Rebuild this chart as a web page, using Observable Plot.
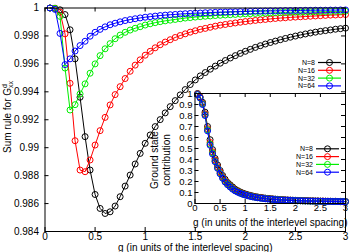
<!DOCTYPE html>
<html><head><meta charset="utf-8">
<script src="https://cdn.jsdelivr.net/npm/d3@7"></script>
<script src="https://cdn.jsdelivr.net/npm/@observablehq/plot@0.6"></script>
<style>
html,body{margin:0;padding:0;background:#fff;}
#wrap{position:relative;width:360px;height:252px;overflow:hidden;font-family:"Liberation Sans",Arial,sans-serif;}
#wrap svg{position:absolute;overflow:visible;}
</style></head><body><div id="wrap"></div>
<script>
const names = ["N=8", "N=16", "N=32", "N=64"];
const colors = ["#000000", "#ff0000", "#00ee00", "#0000ff"];

const gvals = [0.05,0.10,0.15,0.20,0.25,0.30,0.35,0.40,0.45,0.50,0.55,0.60,0.65,0.70,0.75,0.80,0.85,0.90,0.95,1.00,
  1.05,1.10,1.15,1.20,1.25,1.30,1.35,1.40,1.45,1.50,1.55,1.60,1.65,1.70,1.75,1.80,1.85,1.90,1.95,2.00,
  2.05,2.10,2.15,2.20,2.25,2.30,2.35,2.40,2.45,2.50,2.55,2.60,2.65,2.70,2.75,2.80,2.85,2.90,2.95,3.00];

// Main panel: sum rule
const sum8 = [1.00000,0.99998,0.99987,0.99953,0.99844,0.99636,0.99361,0.99079,0.98840,0.98665,
  0.98565,0.98529,0.98541,0.98582,0.98649,0.98725,0.98804,0.98883,0.98959,0.99031,
  0.99091,0.99151,0.99201,0.99249,0.99294,0.99337,0.99378,0.99416,0.99452,0.99485,
  0.99514,0.99538,0.99562,0.99584,0.99605,0.99624,0.99642,0.99659,0.99675,0.99690,
  0.99704,0.99718,0.99730,0.99742,0.99753,0.99763,0.99773,0.99782,0.99791,0.99799,
  0.99807,0.99814,0.99821,0.99827,0.99833,0.99838,0.99843,0.99848,0.99852,0.99856];
const sum16 = [1.00000,0.99998,0.99970,0.99815,0.99461,0.99050,0.98840,0.98828,0.98912,0.99019,
  0.99122,0.99217,0.99306,0.99380,0.99437,0.99495,0.99547,0.99591,0.99629,0.99662,
  0.99690,0.99715,0.99737,0.99756,0.99773,0.99789,0.99803,0.99815,0.99827,0.99837,
  0.99847,0.99854,0.99862,0.99870,0.99877,0.99882,0.99888,0.99893,0.99898,0.99903,
  0.99907,0.99911,0.99915,0.99918,0.99922,0.99925,0.99928,0.99930,0.99933,0.99935,
  0.99937,0.99939,0.99941,0.99943,0.99945,0.99947,0.99949,0.99950,0.99952,0.99953];
const sum32 = [1.00000,0.99997,0.99940,0.99570,0.99270,0.99308,0.99385,0.99457,0.99533,0.99600,
  0.99659,0.99708,0.99745,0.99780,0.99806,0.99826,0.99842,0.99855,0.99866,0.99878,
  0.99887,0.99895,0.99902,0.99908,0.99913,0.99918,0.99923,0.99928,0.99931,0.99935,
  0.99938,0.99941,0.99943,0.99946,0.99948,0.99950,0.99952,0.99954,0.99956,0.99958,
  0.99959,0.99961,0.99962,0.99963,0.99964,0.99966,0.99967,0.99968,0.99969,0.99970,
  0.99970,0.99971,0.99972,0.99973,0.99974,0.99974,0.99975,0.99976,0.99976,0.99977];
const sum64 = [1.00000,0.99990,0.99818,0.99595,0.99636,0.99692,0.99731,0.99762,0.99798,0.99826,
  0.99847,0.99865,0.99880,0.99891,0.99901,0.99910,0.99917,0.99923,0.99929,0.99934,
  0.99938,0.99942,0.99946,0.99949,0.99952,0.99954,0.99957,0.99959,0.99961,0.99963,
  0.99964,0.99966,0.99967,0.99969,0.99970,0.99971,0.99972,0.99973,0.99974,0.99975,
  0.99976,0.99977,0.99977,0.99978,0.99979,0.99979,0.99980,0.99981,0.99981,0.99982,
  0.99982,0.99983,0.99983,0.99984,0.99984,0.99984,0.99985,0.99985,0.99986,0.99986];

// Inset: ground state contribution
const gs8 = [1.000,0.970,0.920,0.830,0.700,0.580,0.490,0.410,0.350,0.300,
  0.255,0.220,0.190,0.170,0.150,0.130,0.117,0.105,0.095,0.087,
  0.080,0.074,0.068,0.063,0.059,0.055,0.052,0.049,0.046,0.044,
  0.042,0.040,0.038,0.036,0.035,0.033,0.032,0.031,0.030,0.029,
  0.028,0.027,0.026,0.026,0.025,0.024,0.024,0.023,0.023,0.022,
  0.022,0.021,0.021,0.020,0.020,0.020,0.019,0.019,0.019,0.018];
const gs16 = [0.995,0.965,0.910,0.815,0.680,0.555,0.470,0.395,0.335,0.285,
  0.243,0.208,0.180,0.160,0.140,0.122,0.110,0.099,0.089,0.082,
  0.075,0.069,0.064,0.059,0.055,0.052,0.049,0.046,0.043,0.041,
  0.039,0.037,0.036,0.034,0.033,0.031,0.030,0.029,0.028,0.027,
  0.026,0.026,0.025,0.024,0.024,0.023,0.023,0.022,0.022,0.021,
  0.021,0.020,0.020,0.019,0.019,0.019,0.018,0.018,0.018,0.017];
const gs32 = [0.990,0.960,0.905,0.805,0.670,0.540,0.460,0.385,0.325,0.275,
  0.235,0.200,0.175,0.155,0.135,0.118,0.106,0.096,0.086,0.079,
  0.073,0.067,0.062,0.057,0.053,0.050,0.047,0.044,0.042,0.040,
  0.038,0.036,0.035,0.033,0.032,0.030,0.029,0.028,0.027,0.026,
  0.025,0.025,0.024,0.023,0.023,0.022,0.022,0.021,0.021,0.020,
  0.020,0.019,0.019,0.019,0.018,0.018,0.018,0.017,0.017,0.017];
const gs64 = [0.990,0.960,0.900,0.800,0.660,0.530,0.450,0.380,0.320,0.270,
  0.230,0.195,0.170,0.150,0.130,0.115,0.103,0.093,0.084,0.077,
  0.071,0.065,0.060,0.056,0.052,0.049,0.046,0.043,0.041,0.039,
  0.037,0.035,0.034,0.032,0.031,0.030,0.029,0.028,0.027,0.026,
  0.025,0.025,0.024,0.023,0.023,0.022,0.022,0.021,0.021,0.020,
  0.020,0.019,0.019,0.019,0.018,0.018,0.018,0.017,0.017,0.017];

const xTicks = [0, 0.5, 1, 1.5, 2, 2.5, 3];
const xTickLabels = ["0", "0.5", "1", "1.5", "2", "2.5", "3"];
const yTicks = [0.984, 0.986, 0.988, 0.99, 0.992, 0.994, 0.996, 0.998, 1];
const yTickLabels = ["0.984", "0.986", "0.988", "0.99", "0.992", "0.994", "0.996", "0.998", "1"];
const insetYTicks = [0, 0.1, 0.2, 0.3, 0.4, 0.5, 0.6, 0.7, 0.8, 0.9, 1];
const insetYTickLabels = ["0", "0.1", "0.2", "0.3", "0.4", "0.5", "0.6", "0.7", "0.8", "0.9", "1"];
const xTitle = "g (in units of the interlevel spacing)";
const insetTitle = ["Ground state", "contribution"];

const mainSeries = [sum8, sum16, sum32, sum64];
const insetSeries = [gs8, gs16, gs32, gs64];
const mkRows = (arrs) => arrs.map((arr, s) => arr.map((v, i) => ({g: gvals[i], v, N: names[s]})));
const mainRows = mkRows(mainSeries);
const insetRows = mkRows(insetSeries);

const FONT = '"Liberation Sans", Arial, sans-serif';

function tickRules(xt, yt, xd, yd, len) {
  return [
    Plot.ruleX(xt, {x: d => d, y1: () => yd[0], y2: () => yd[0], insetTop: -len, stroke: "black"}),
    Plot.ruleX(xt, {x: d => d, y1: () => yd[1], y2: () => yd[1], insetBottom: -len, stroke: "black"}),
    Plot.ruleY(yt, {y: d => d, x1: () => xd[0], x2: () => xd[0], insetRight: -len, stroke: "black"}),
    Plot.ruleY(yt, {y: d => d, x1: () => xd[1], x2: () => xd[1], insetLeft: -len, stroke: "black"})
  ];
}

function seriesMarks(rowsBySeries) {
  const m = [];
  rowsBySeries.forEach((rows, s) => {
    m.push(Plot.line(rows, {x: "g", y: "v", stroke: colors[s], strokeWidth: 1}));
    m.push(Plot.dot(rows, {x: "g", y: "v", stroke: colors[s], fill: "none", r: 3, strokeWidth: 1}));
  });
  return m;
}

const main = Plot.plot({
  width: 360, height: 252,
  marginLeft: 44.5, marginRight: 15, marginTop: 7.5, marginBottom: 21,
  style: {fontFamily: FONT, fontSize: "10px", background: "transparent", overflow: "visible"},
  x: {domain: [0, 3]},
  y: {domain: [0.984, 1]},
  marks: [
    ...seriesMarks(mainRows),
    Plot.axisX(xTicks, {tickSize: 0, tickPadding: 1.5, label: null, fontSize: 10,
      tickFormat: d => xTickLabels[xTicks.indexOf(d)]}),
    Plot.axisY(yTicks, {tickSize: 0, tickPadding: 6, label: null, fontSize: 10,
      tickFormat: d => yTickLabels[yTicks.indexOf(d)]}),
    ...tickRules(xTicks, yTicks, [0, 3], [0.984, 1], 4),
    Plot.frame({stroke: "black"}),
    Plot.text([xTitle], {frameAnchor: "bottom", dy: 19, fontSize: 10, lineAnchor: "bottom"})
  ]
});
main.style.left = "0px"; main.style.top = "0px";
document.getElementById("wrap").appendChild(main);

const inset = Plot.plot({
  width: 210, height: 140,
  marginLeft: 44.5, marginRight: 15, marginTop: 5, marginBottom: 25,
  style: {fontFamily: FONT, fontSize: "9px", background: "transparent", overflow: "visible"},
  x: {domain: [0, 3]},
  y: {domain: [0, 1]},
  marks: [
    Plot.frame({fill: "white", stroke: "none"}),
    ...seriesMarks(insetRows),
    Plot.axisX(xTicks, {tickSize: 0, tickPadding: 1, label: null, fontSize: 9.5,
      tickFormat: d => xTickLabels[xTicks.indexOf(d)]}),
    Plot.axisY(insetYTicks, {tickSize: 0, tickPadding: 2.5, label: null, fontSize: 9.5,
      tickFormat: d => insetYTickLabels[insetYTicks.indexOf(d)]}),
    ...tickRules(xTicks, insetYTicks, [0, 3], [0, 1], 4),
    Plot.frame({stroke: "black"}),
    Plot.text([xTitle], {frameAnchor: "bottom", dy: 22.5, fontSize: 10, lineAnchor: "bottom"})
  ]
});
inset.style.left = "150px"; inset.style.top = "88px";
document.getElementById("wrap").appendChild(inset);

// Main y-axis title with super/subscript
const ms = d3.select(main);
const yt = ms.append("text")
  .attr("transform", "translate(10.5,117) rotate(-90)")
  .attr("text-anchor", "middle")
  .attr("font-size", 10).attr("font-family", FONT).attr("fill", "black");
yt.append("tspan").text("Sum rule for G");
yt.append("tspan").attr("font-size", 7).attr("dy", -4).text("d");
yt.append("tspan").attr("font-size", 7).attr("dx", -4).attr("dy", 6.5).text("xx");

// Inset y title (two lines)
const is = d3.select(inset);
insetTitle.forEach((t, i) => {
  is.append("text")
    .attr("transform", `translate(${8 + i * 11.5},72) rotate(-90)`)
    .attr("text-anchor", "middle")
    .attr("font-size", 10).attr("font-family", FONT).attr("fill", "black")
    .text(t);
});

// Legends
function legend(svg, x0, y0, step, fs) {
  names.forEach((n, i) => {
    const y = y0 + i * step;
    svg.append("text").attr("x", x0).attr("y", y).attr("dy", "0.35em")
      .attr("text-anchor", "end").attr("font-size", fs).attr("font-family", FONT).text(n);
    svg.append("line").attr("x1", x0 + 3).attr("x2", x0 + 26).attr("y1", y).attr("y2", y)
      .attr("stroke", colors[i]).attr("stroke-width", 1.2);
    svg.append("circle").attr("cx", x0 + 14.5).attr("cy", y).attr("r", 3)
      .attr("fill", "none").attr("stroke", colors[i]).attr("stroke-width", 1);
  });
}
legend(ms, 315, 62.5, 7.8, 7);
legend(is, 163, 60.8, 7.8, 7);
</script>
</body></html>
